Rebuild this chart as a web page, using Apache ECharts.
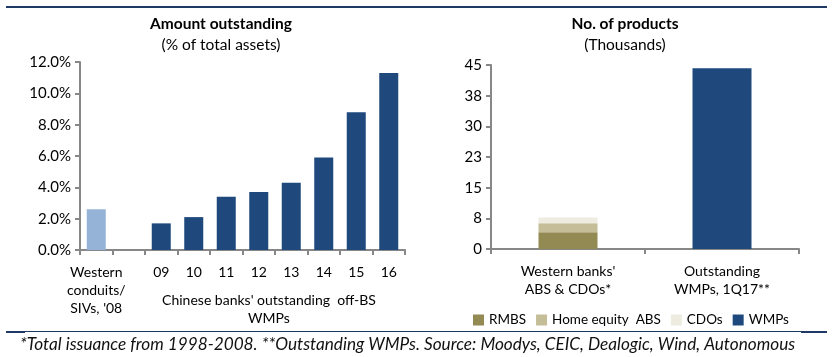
<!DOCTYPE html>
<html><head><meta charset="utf-8">
<script src="https://cdn.jsdelivr.net/npm/echarts@6/dist/echarts.min.js"></script>
<style>html,body{margin:0;padding:0;background:#fff}#c{width:836px;height:357px}</style>
</head><body><div id="c"></div>
<script>
const leftCategories = ["Western\nconduits/\nSIVs, '08", "", "09", "10", "11", "12", "13", "14", "15", "16"];
const leftValues = [2.6, null, 1.7, 2.1, 3.4, 3.7, 4.3, 5.9, 8.8, 11.3];
const leftTicks = [0, 2, 4, 6, 8, 10, 12];
const rightCategories = ["Western banks'\nABS & CDOs*", "Outstanding\nWMPs, 1Q17**"];
const rmbs = [4.1, null];
const homeEquity = [2.2, null];
const cdos = [1.4, null];
const wmps = [null, 44.2];

const NAVY = '#1F497D', LIGHT = '#95B3D7';
const FONT = 'Lato';
const chart = echarts.init(document.getElementById('c'), null, {renderer: 'canvas'});
const axisLine = {show: true, lineStyle: {color: '#878787', width: 2}};
const axisTick = {show: true, length: 5, lineStyle: {color: '#878787', width: 2}};
chart.setOption({
  animation: false,
  textStyle: {fontFamily: FONT},
  grid: [
    {left: 80, top: 62, width: 325, height: 188},
    {left: 491, top: 65, width: 308, height: 184}
  ],
  xAxis: [
    {type: 'category', gridIndex: 0, data: leftCategories, axisLine, axisTick,
     axisLabel: {color: '#000', fontSize: 14, fontFamily: FONT, margin: 13, lineHeight: 18, interval: 0}},
    {type: 'category', gridIndex: 1, data: rightCategories, axisLine, axisTick,
     axisLabel: {color: '#000', fontSize: 14, fontFamily: FONT, margin: 13, lineHeight: 18, interval: 0}}
  ],
  yAxis: [
    {type: 'value', gridIndex: 0, min: leftTicks[0], max: leftTicks[leftTicks.length - 1], interval: 2,
     axisLine, axisTick, splitLine: {show: false},
     axisLabel: {color: '#000', fontSize: 15, fontFamily: FONT, margin: 9, formatter: v => v.toFixed(1) + '%'}},
    {type: 'value', gridIndex: 1, min: 0, max: 45, interval: 7.5,
     axisLine, axisTick, splitLine: {show: false},
     axisLabel: {color: '#000', fontSize: 15, fontFamily: FONT, margin: 9, formatter: v => String(Math.round(v))}}
  ],
  legend: {
    left: 468, top: 313, itemWidth: 11, itemHeight: 11, itemGap: 10, padding: [0, 5],
    icon: 'rect', textStyle: {fontSize: 13.5, fontFamily: FONT, color: '#000'},
    data: ['RMBS', 'Home equity  ABS', 'CDOs', 'WMPs']
  },
  series: [
    {type: 'bar', xAxisIndex: 0, yAxisIndex: 0, barWidth: 19,
     data: leftValues.map((v, i) => ({value: v, itemStyle: {color: i === 0 ? LIGHT : NAVY}}))},
    {name: 'RMBS', type: 'bar', stack: 's', xAxisIndex: 1, yAxisIndex: 1, barWidth: 59, data: rmbs, itemStyle: {color: '#938953'}},
    {name: 'Home equity  ABS', type: 'bar', stack: 's', xAxisIndex: 1, yAxisIndex: 1, barWidth: 59, data: homeEquity, itemStyle: {color: '#C4BD97'}},
    {name: 'CDOs', type: 'bar', stack: 's', xAxisIndex: 1, yAxisIndex: 1, barWidth: 59, data: cdos, itemStyle: {color: '#EEECE1'}},
    {name: 'WMPs', type: 'bar', stack: 's', xAxisIndex: 1, yAxisIndex: 1, barWidth: 59, data: wmps, itemStyle: {color: NAVY}}
  ],
  graphic: [
    {type: 'rect', shape: {x: 6, y: 6, width: 821, height: 2}, style: {fill: '#1F3864'}},
    {type: 'rect', shape: {x: 6, y: 331, width: 821, height: 1}, style: {fill: '#1F3864'}},
    {type: 'rect', shape: {x: 6, y: 331, width: 19, height: 2}, style: {fill: '#1F3864'}},
    {type: 'rect', shape: {x: 801, y: 331, width: 26, height: 2}, style: {fill: '#1F3864'}},
    {type: 'text', x: 221, y: 16, style: {text: 'Amount outstanding', font: 'bold 15.5px Lato', fill: '#000', textAlign: 'center'}},
    {type: 'text', x: 221, y: 37, style: {text: '(% of total assets)', font: '15.5px Lato', fill: '#000', textAlign: 'center'}},
    {type: 'text', x: 625, y: 16, style: {text: 'No. of products', font: 'bold 15.5px Lato', fill: '#000', textAlign: 'center'}},
    {type: 'text', x: 625, y: 37, style: {text: '(Thousands)', font: '15.5px Lato', fill: '#000', textAlign: 'center'}},
    {type: 'text', x: 269, y: 291, style: {text: "Chinese banks' outstanding  off-BS\nWMPs", font: '14px Lato', lineHeight: 18, fill: '#000', textAlign: 'center'}},
    {type: 'text', x: 20, y: 336, style: {text: '*Total issuance from 1998-2008. **Outstanding WMPs. Source: Moodys, CEIC, Dealogic, Wind, Autonomous', font: 'italic 17.2px Lato', fill: '#111', textAlign: 'left'}}
  ]
});
</script></body></html>
